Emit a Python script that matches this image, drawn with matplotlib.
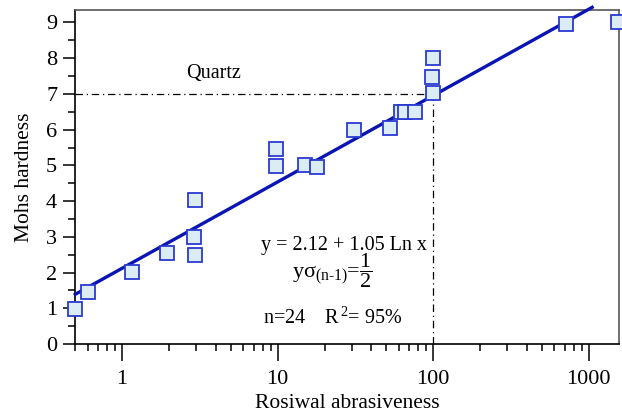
import numpy as np
import matplotlib.pyplot as plt
from matplotlib.ticker import LogLocator, MultipleLocator, FixedLocator

plt.rcParams['font.family'] = ['Liberation Serif', 'DejaVu Serif']
plt.rcParams['mathtext.fontset'] = 'custom'
plt.rcParams['mathtext.rm'] = 'Liberation Serif'
plt.rcParams['mathtext.it'] = 'Liberation Serif'

# Rosiwal abrasiveness vs Mohs hardness
abrasiveness = [0.5, 0.6, 1.16, 1.94, 2.9, 2.95, 2.95, 9.7, 9.7, 15, 18,
                31, 53, 62, 66, 76, 100, 98, 100, 710, 1550]
hardness = [0.97, 1.47, 2.03, 2.55, 3.0, 2.48, 4.02, 4.97, 5.47, 5.0, 4.95,
            6.0, 6.05, 6.5, 6.5, 6.5, 7.02, 7.47, 8.0, 8.95, 9.02]

a0, a1 = 2.12, 1.05
fit_x = np.geomspace(0.5, 1050, 200)
fit_y = a0 + a1*np.log(fit_x)

quartz_x = 100
quartz_y = 7

fig = plt.figure(figsize=(6.22, 4.16), dpi=100)
ax = fig.add_axes([0.121, 0.173, 0.874, 0.803])

ax.plot(fit_x, fit_y, color='#0a14b4', lw=2.4, clip_on=False, zorder=3)
ax.plot(abrasiveness, hardness, 's', ms=9.5, mfc='#dcecf5', mec='#2a3ad0',
        mew=1.3, ls='none', clip_on=False, zorder=4)

ax.plot([0.5, quartz_x], [quartz_y, quartz_y], color='black', lw=0.9,
        ls=(0, (6, 3, 1, 3)), zorder=2)
ax.plot([quartz_x, quartz_x], [0, quartz_y], color='black', lw=0.9,
        ls=(0, (6, 3, 1, 3)), zorder=2)

ax.set_xscale('log')
ax.set_xlim(0.5, 1560)
ax.set_ylim(0, 9.35)

ax.xaxis.set_major_locator(FixedLocator([1, 10, 100, 1000]))
ax.xaxis.set_minor_locator(LogLocator(base=10, subs=np.arange(2, 10)))
ax.set_xticklabels(['1', '10', '100', '1000'])
ax.yaxis.set_major_locator(MultipleLocator(1))
ax.yaxis.set_minor_locator(MultipleLocator(0.5))

ax.tick_params(which='major', direction='out', labelsize=16, width=1.1)
ax.tick_params(axis='y', which='major', length=9, pad=4)
ax.tick_params(axis='x', which='major', length=12, pad=7)
ax.tick_params(which='minor', direction='out', length=5, width=1.1)

for s in ['top', 'right']:
    ax.spines[s].set_color('#555555')
ax.spines[:].set_linewidth(1.2)

ax.set_xlabel('Rosiwal abrasiveness', fontsize=15.5, labelpad=3)
ax.set_ylabel('Mohs hardness', fontsize=15.5, labelpad=9)

ax.text(3.9, 7.3, 'Quartz', fontsize=14.5, ha='center', va='bottom')
ax.text(26.6, 2.76, 'y = 2.12 + 1.05 Ln x', fontsize=14.5, ha='center', va='center')
ax.text(22.5, 2.05, r'yσ$_{\mathrm{(n}\text{-}\mathrm{1)}}$=$\dfrac{1}{2}$',
        fontsize=16, ha='center', va='center')
ax.text(8.0, 0.72, 'n=24    R$^{\\,2}$= 95%', fontsize=14.5, ha='left', va='center')

fig.savefig('out.png', dpi=100)
